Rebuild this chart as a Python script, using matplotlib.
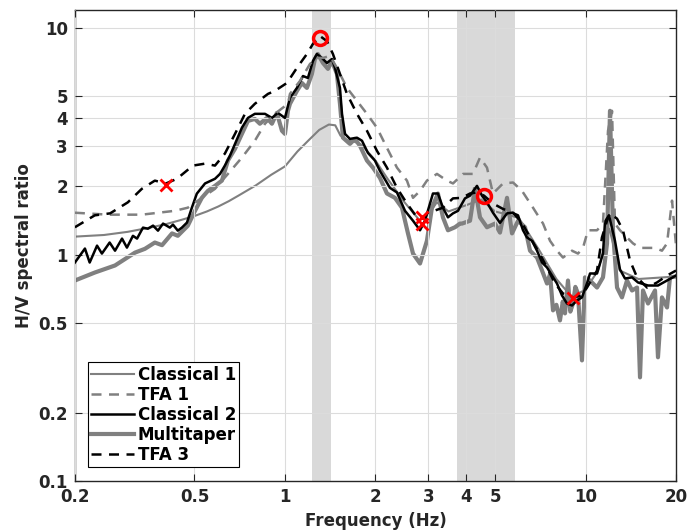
import numpy as np
import matplotlib
matplotlib.use('Agg')
import matplotlib.pyplot as plt

plt.rcParams['font.family'] = 'DejaVu Sans'
plt.rcParams['font.weight'] = 'bold'

# --- data ---
# Classical 1 (smooth thin gray)
f_cl1 = [0.2, 0.25, 0.3, 0.35, 0.4, 0.45, 0.5, 0.55, 0.6, 0.65, 0.7, 0.8, 0.9, 1.0,
         1.1, 1.2, 1.3, 1.4, 1.47, 1.53, 1.6, 1.7, 1.8, 2.0, 2.2, 2.5, 2.8, 3.0,
         3.2, 3.5, 4.0, 4.5, 5.0, 5.5, 6.0, 7.0, 8.0, 9.0, 10, 11, 12, 13, 15, 20]
hv_cl1 = [1.20, 1.22, 1.26, 1.31, 1.36, 1.42, 1.48, 1.55, 1.63, 1.72, 1.82, 2.02, 2.25, 2.45,
          2.85, 3.2, 3.55, 3.75, 3.72, 3.35, 3.2, 3.15, 3.05, 2.6, 2.15, 1.7, 1.42, 1.5,
          1.7, 1.55, 1.65, 1.75, 1.55, 1.5, 1.45, 1.05, 0.78, 0.65, 0.7, 0.85, 1.3, 0.85, 0.78, 0.8]

# TFA 1 (gray dashed)
f_tfa1 = [0.2, 0.258, 0.334, 0.43, 0.475, 0.529, 0.585, 0.646, 0.719, 0.794, 0.858, 0.926,
          1.023, 1.039, 1.122, 1.211, 1.277, 1.338, 1.412, 1.489, 1.608, 1.736, 1.874, 2.023,
          2.184, 2.358, 2.546, 2.667, 2.814, 2.967, 3.204, 3.459, 3.623, 3.911, 4.222, 4.455,
          4.70, 4.921, 5.314, 5.739, 6.148, 6.688, 7.222, 7.618, 8.036, 8.414, 9.016, 9.438,
          9.806, 10.19, 10.92, 11.43, 11.88, 12.25, 12.53, 13.02, 13.74, 14.39, 15.18, 16.14,
          17.03, 17.96, 18.67, 19.4, 20]
hv_tfa1 = [1.53, 1.50, 1.50, 1.56, 1.61, 1.78, 1.95, 2.27, 2.68, 3.18, 3.78, 4.18,
           4.63, 5.12, 5.84, 6.94, 7.38, 7.38, 7.53, 6.67, 5.44, 4.77, 4.18, 3.63,
           2.96, 2.42, 2.12, 1.78, 1.91, 2.12, 2.27, 2.12, 2.06, 2.27, 2.27, 2.68,
           2.42, 1.86, 2.06, 2.08, 1.91, 1.61, 1.37, 1.15, 1.04, 0.97, 1.04, 1.01,
           1.07, 1.28, 1.28, 1.37, 3.52, 4.31, 1.37, 1.28, 1.19, 1.12, 1.07, 1.07,
           1.07, 1.04, 1.12, 1.73, 1.1]

# Classical 2 (black solid)
f_cl2 = [0.2, 0.216, 0.224, 0.237, 0.246, 0.261, 0.272, 0.287, 0.298, 0.312, 0.322, 0.337,
         0.35, 0.364, 0.378, 0.393, 0.414, 0.424, 0.44, 0.454, 0.472, 0.49, 0.509, 0.542,
         0.585, 0.608, 0.631, 0.656, 0.682, 0.719, 0.753, 0.794, 0.858, 0.905, 0.947, 1.0,
         1.039, 1.096, 1.148, 1.192, 1.239, 1.277, 1.327, 1.379, 1.433, 1.467, 1.524, 1.548,
         1.584, 1.645, 1.736, 1.804, 1.888, 1.992, 2.07, 2.235, 2.358, 2.508, 2.667, 2.814,
         2.922, 3.107, 3.228, 3.354, 3.486, 3.623, 3.764, 3.971, 4.127, 4.354, 4.524, 4.70,
         4.921, 5.193, 5.48, 5.694, 5.962, 6.194, 6.387, 6.637, 6.896, 7.167, 7.445, 7.737,
         8.036, 8.349, 8.676, 9.016, 9.366, 9.731, 10.11, 10.35, 10.92, 11.43, 11.61, 11.97,
         12.53, 13.02, 13.53, 14.28, 14.95, 16.14, 17.42, 18.67, 20]
hv_cl2 = [0.922, 1.063, 0.922, 1.095, 1.01, 1.13, 1.04, 1.176, 1.073, 1.21, 1.176, 1.315,
          1.30, 1.342, 1.275, 1.37, 1.315, 1.356, 1.275, 1.315, 1.384, 1.61, 1.857, 2.06,
          2.16, 2.27, 2.47, 2.73, 3.08, 3.63, 4.01, 4.18, 4.18, 4.01, 4.22, 4.01,
          4.92, 5.44, 6.14, 6.02, 7.15, 7.68, 7.38, 7.01, 7.30, 6.67, 5.44, 4.18,
          3.41, 3.24, 3.28, 3.18, 2.81, 2.60, 2.34, 1.97, 1.88, 1.56, 1.41, 1.28,
          1.41, 1.86, 1.86, 1.61, 1.46, 1.52, 1.56, 1.77, 1.82, 2.01, 1.82, 1.70,
          1.53, 1.38, 1.52, 1.53, 1.49, 1.28, 1.19, 1.15, 1.04, 0.922, 0.877, 0.808,
          0.745, 0.66, 0.608, 0.596, 0.627, 0.647, 0.745, 0.825, 0.825, 1.01, 1.40, 1.49,
          1.15, 0.86, 0.784, 0.793, 0.753, 0.73, 0.73, 0.768, 0.808]

# Multitaper (thick gray)
f_mt = [0.2, 0.233, 0.272, 0.317, 0.342, 0.369, 0.39, 0.421, 0.44, 0.475, 0.502, 0.529,
        0.554, 0.585, 0.617, 0.646, 0.682, 0.719, 0.753, 0.794, 0.825, 0.871, 0.905, 0.94,
        0.977, 1.0, 1.023, 1.039, 1.096, 1.139, 1.183, 1.229, 1.258, 1.287, 1.338, 1.39,
        1.433, 1.489, 1.524, 1.559, 1.645, 1.71, 1.776, 1.874, 1.962, 2.07, 2.184, 2.322,
        2.45, 2.566, 2.667, 2.814, 2.967, 3.083, 3.228, 3.354, 3.486, 3.679, 3.822, 3.882,
        4.127, 4.288, 4.455, 4.70, 4.997, 5.193, 5.48, 5.694, 5.962, 6.29, 6.536, 6.896,
        7.167, 7.445, 7.62, 7.795, 8.0, 8.222, 8.4, 8.544, 8.742, 8.9, 9.085, 9.25, 9.438,
        9.731, 9.958, 10.35, 10.92, 11.43, 11.79, 12.06, 12.34, 12.73, 13.22, 13.74, 14.28,
        14.84, 15.18, 15.53, 16.14, 17.03, 17.42, 17.96, 18.67, 19.1, 20]
hv_mt = [0.768, 0.833, 0.895, 1.02, 1.06, 1.13, 1.10, 1.24, 1.21, 1.34, 1.56, 1.78,
         1.91, 2.01, 2.12, 2.60, 2.93, 3.41, 3.89, 3.97, 3.78, 4.01, 3.78, 4.22,
         3.52, 3.41, 4.31, 4.63, 5.28, 5.72, 5.44, 6.27, 7.30, 7.68, 7.01, 6.60,
         7.15, 6.27, 4.63, 3.28, 3.08, 3.24, 3.02, 2.60, 2.42, 2.18, 1.86, 1.78,
         1.61, 1.24, 1.01, 0.913, 1.15, 1.61, 1.86, 1.46, 1.28, 1.32, 1.37, 1.37,
         1.41, 1.97, 1.46, 1.32, 1.37, 1.25, 1.78, 1.24, 1.41, 1.32, 1.04, 0.97,
         0.85, 0.745, 0.82, 0.567, 0.60, 0.512, 0.62, 0.55, 0.768, 0.56, 0.608, 0.72, 0.673,
         0.341, 0.793, 0.768, 0.715, 0.793, 1.12, 4.31, 1.28, 0.715, 0.647, 0.768, 0.694,
         0.715, 0.287, 0.694, 0.608, 0.694, 0.352, 0.647, 0.584, 0.793, 0.8]

# TFA 3 (black dashed)
f_tfa3 = [0.2, 0.233, 0.262, 0.30, 0.334, 0.369, 0.402, 0.437, 0.494, 0.542, 0.585, 0.631,
          0.682, 0.736, 0.794, 0.878, 0.926, 1.015, 1.096, 1.183, 1.239, 1.307, 1.379, 1.444,
          1.524, 1.608, 1.736, 1.874, 2.023, 2.184, 2.358, 2.546, 2.749, 2.857, 2.967, 3.354,
          3.623, 3.882, 4.127, 4.354, 4.594, 4.921, 5.314, 5.739, 6.148, 6.536, 6.95, 7.445,
          7.915, 8.414, 9.085, 9.731, 10.11, 10.92, 11.34, 11.79, 12.06, 12.73, 13.32, 14.06,
          14.84, 16.02, 17.29, 18.67, 20]
hv_tfa3 = [1.32, 1.49, 1.52, 1.70, 1.95, 2.12, 2.06, 2.16, 2.47, 2.52, 2.47, 2.79,
           3.41, 4.18, 4.63, 5.12, 5.28, 5.72, 6.67, 7.68, 8.51, 9.22, 8.76, 7.68,
           6.27, 5.12, 4.18, 3.52, 2.87, 2.42, 1.97, 1.68, 1.46, 1.44, 1.52, 1.61,
           1.77, 1.78, 1.86, 1.88, 1.82, 1.68, 1.59, 1.53, 1.38, 1.19, 1.04, 0.877,
           0.745, 0.673, 0.647, 0.66, 0.715, 0.85, 1.19, 1.41, 1.52, 1.44, 1.28, 0.941,
           0.793, 0.715, 0.753, 0.808, 0.85]

# picked peaks (circles) and troughs (crosses)
f_peaks = [1.31, 4.59]
hv_peaks = [9.04, 1.82]
f_trough = [0.402, 2.86, 2.86, 9.09]
hv_trough = [2.03, 1.47, 1.36, 0.64]

# shaded frequency bands
bands = [(1.23, 1.42), (3.73, 5.82)]

xticks = [0.2, 0.5, 1, 2, 3, 4, 5, 10, 20]
yticks = [0.1, 0.2, 0.5, 1, 2, 3, 4, 5, 10]

gray = '#808080'

fig = plt.figure(figsize=(6.87, 5.31), dpi=100)
ax = fig.add_axes([0.109, 0.094, 0.875, 0.887])

for lo, hi in bands:
    ax.axvspan(lo, hi, color='#d9d9d9', lw=0, zorder=0)

ax.plot(f_cl1, hv_cl1, color=gray, lw=1.5, label='Classical 1', zorder=2)
ax.plot(f_tfa1, hv_tfa1, color=gray, lw=1.8, ls=(0, (4, 3)), label='TFA 1', zorder=4)
ax.plot(f_cl2, hv_cl2, color='black', lw=1.8, label='Classical 2', zorder=3)
ax.plot(f_mt, hv_mt, color=gray, lw=3, label='Multitaper', zorder=2.5)
ax.plot(f_tfa3, hv_tfa3, color='black', lw=1.8, ls=(0, (4, 3)), label='TFA 3', zorder=5)

ax.plot(f_peaks, hv_peaks, 'o', mfc='none', mec='red', ms=10, mew=2.5, zorder=6)
ax.plot(f_trough, hv_trough, 'x', color='red', ms=8, mew=2, zorder=6)

ax.set_xscale('log')
ax.set_yscale('log')
ax.set_xlim(0.2, 20)
ax.set_ylim(0.1, 12)
ax.set_xticks(xticks)
ax.set_xticklabels([f'{t:g}' for t in xticks])
ax.set_yticks(yticks)
ax.set_yticklabels([f'{t:g}' for t in yticks])
ax.minorticks_off()
ax.tick_params(direction='in', top=True, right=True, labelsize=12, colors='#262626',
               length=5, width=0.8)
ax.tick_params(axis='x', pad=5)
ax.tick_params(axis='y', pad=5)
for lab in ax.get_xticklabels() + ax.get_yticklabels():
    lab.set_fontweight('bold')
for sp in ax.spines.values():
    sp.set_color('#262626')
    sp.set_linewidth(1.0)
ax.grid(True, color='#dcdcdc', lw=0.8, zorder=1)
ax.set_axisbelow(False)

ax.set_xlabel('Frequency (Hz)', fontsize=12, fontweight='bold', color='#262626', labelpad=4)
ax.set_ylabel('H/V spectral ratio', fontsize=12, fontweight='bold', color='#262626', labelpad=4)

leg = ax.legend(loc='lower left', bbox_to_anchor=(0.021, 0.03), fontsize=12,
                frameon=True, fancybox=False, framealpha=1, edgecolor='black',
                handlelength=2.6, handletextpad=0.2, labelspacing=0.12,
                borderpad=0.2, borderaxespad=0)
leg.get_frame().set_linewidth(0.8)
leg.set_zorder(10)
for t in leg.get_texts():
    t.set_fontweight('bold')

fig.savefig('out.png', dpi=100)
